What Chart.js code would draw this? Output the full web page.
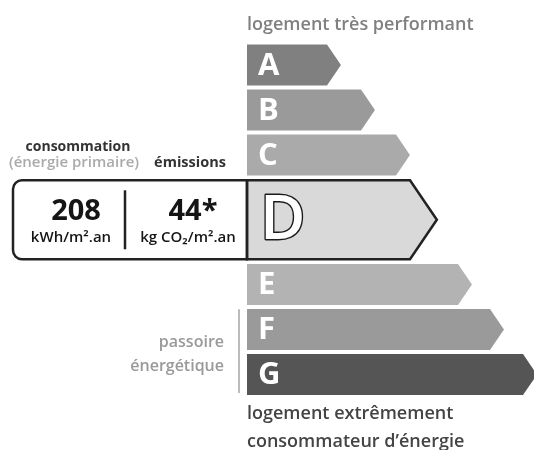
<!DOCTYPE html>
<html>
<head>
<meta charset="utf-8">
<script src="https://cdn.jsdelivr.net/npm/chart.js@4.4.1/dist/chart.umd.min.js"></script>
<style>
  html, body { margin: 0; padding: 0; background: #ffffff; }
  #wrap { width: 534px; height: 450px; position: relative; }
</style>
</head>
<body>
<div id="wrap"><canvas id="c"></canvas></div>
<script>
// ---------- data ----------
const grades = ['A', 'B', 'C', 'D', 'E', 'F', 'G'];
const rectLengths = [80, 114, 149, 163, 211, 243, 276];
const activeGrade = 'D';
const consumptionValue = '208';
const consumptionUnit = 'kWh/m².an';
const emissionsValue = '44*';
const emissionsUnit = 'kg CO₂/m².an';
const consumptionTitle = 'consommation';
const consumptionSub = '(énergie primaire)';
const emissionsTitle = 'émissions';
const topLabel = 'logement très performant';
const bottomLabel = ['logement extrêmement', 'consommateur d’énergie'];
const sieveLabel = ['passoire', 'énergétique'];
const sieveGrades = ['F', 'G'];

// ---------- styles ----------
const fills = ['#808080', '#9a9a9a', '#aaaaaa', '#d9d9d9', '#b3b3b3', '#9a9a9a', '#555555'];
const FONT = '"Open Sans", "Noto Sans", sans-serif';
const act = grades.indexOf(activeGrade);
const extra = 0.44;
function rowCenter(i) { return i + (i > act ? 2 * extra : (i === act ? extra : 0)); }

const normalData = [];
grades.forEach((g, i) => { if (i !== act) normalData.push({ y: rowCenter(i), x: [0, rectLengths[i]], g: g, i: i }); });
const activeData = [{ y: rowCenter(act), x: [0, rectLengths[act]], g: activeGrade, i: act }];

const dpePlugin = {
  id: 'dpe',
  afterDatasetsDraw(chart) {
    const ctx = chart.ctx;
    const xs = chart.scales.x, ys = chart.scales.y;
    ctx.save();
    const bars = [];
    chart.data.datasets.forEach((ds, di) => {
      const meta = chart.getDatasetMeta(di);
      meta.data.forEach((el, j) => {
        const p = el.getProps(['x', 'y', 'base', 'height'], true);
        bars.push({ p: p, d: ds.data[j], active: ds.data[j].i === act });
      });
    });
    bars.sort((a, b) => (a.active ? 1 : 0) - (b.active ? 1 : 0));
    bars.forEach(b => {
      const { x, y, base, height } = b.p;
      const half = height / 2;
      const tip = half * 0.68;
      ctx.beginPath();
      ctx.moveTo(base, y - half);
      ctx.lineTo(x, y - half);
      ctx.lineTo(x + tip, y);
      ctx.lineTo(x, y + half);
      ctx.lineTo(base, y + half);
      ctx.closePath();
      ctx.fillStyle = fills[b.d.i];
      ctx.fill();
      if (b.active) {
        const left = xs.getPixelForValue(-234);
        const top = y - half, bot = y + half, r = 9;
        ctx.beginPath();
        ctx.moveTo(base, top);
        ctx.lineTo(left + r, top);
        ctx.arcTo(left, top, left, top + r, r);
        ctx.lineTo(left, bot - r);
        ctx.arcTo(left, bot, left + r, bot, r);
        ctx.lineTo(base, bot);
        ctx.closePath();
        ctx.fillStyle = '#ffffff';
        ctx.fill();
        ctx.lineWidth = 2.5;
        ctx.strokeStyle = '#222222';
        ctx.stroke();
        ctx.beginPath();
        ctx.moveTo(base, y - half);
        ctx.lineTo(x, y - half);
        ctx.lineTo(x + tip, y);
        ctx.lineTo(x, y + half);
        ctx.lineTo(base, y + half);
        ctx.closePath();
        ctx.stroke();
        const dv = xs.getPixelForValue(-122);
        ctx.beginPath();
        ctx.moveTo(dv, top + 10);
        ctx.lineTo(dv, bot - 10);
        ctx.lineWidth = 2.5;
        ctx.stroke();
        ctx.fillStyle = '#151515';
        ctx.textAlign = 'center';
        ctx.textBaseline = 'alphabetic';
        ctx.font = '700 29px ' + FONT;
        ctx.fillText(consumptionValue, 76, y + 0);
        ctx.fillText(emissionsValue, 193, y + 0);
        ctx.font = '600 15px ' + FONT;
        ctx.fillText(consumptionUnit, 71, y + 22);
        ctx.fillText(emissionsUnit, 188, y + 22);
        ctx.font = '600 62px ' + FONT;
        ctx.textAlign = 'left';
        ctx.textBaseline = 'middle';
        ctx.lineWidth = 2.8;
        ctx.lineJoin = 'round';
        ctx.strokeStyle = '#1a1a1a';
        ctx.fillStyle = '#ffffff';
        ctx.strokeText(b.d.g, base + 13, y + 2);
        ctx.fillText(b.d.g, base + 13, y + 2);
      } else {
        ctx.font = '700 31px ' + FONT;
        ctx.textAlign = 'left';
        ctx.textBaseline = 'middle';
        ctx.fillStyle = '#ffffff';
        ctx.fillText(b.d.g, base + 11, y + 1);
      }
    });

    const activeTop = ys.getPixelForValue(rowCenter(act) - 0.88);
    ctx.textAlign = 'center';
    ctx.textBaseline = 'alphabetic';
    ctx.font = '700 14px ' + FONT;
    ctx.fillStyle = '#333333';
    ctx.fillText(consumptionTitle, 78, activeTop - 29);
    ctx.font = '700 14.5px ' + FONT;
    ctx.fillText(emissionsTitle, 190, activeTop - 13);
    ctx.font = '600 15px ' + FONT;
    ctx.fillStyle = '#aaaaaa';
    ctx.fillText(consumptionSub, 74, activeTop - 13);

    const x0 = xs.getPixelForValue(0);
    const firstTop = ys.getPixelForValue(rowCenter(0) - 0.455);
    ctx.textAlign = 'left';
    ctx.font = '600 18px ' + FONT;
    ctx.fillStyle = '#808080';
    ctx.fillText(topLabel, x0, firstTop - 15);

    const lastBot = ys.getPixelForValue(rowCenter(grades.length - 1) + 0.455);
    ctx.font = '600 18px ' + FONT;
    ctx.fillStyle = '#444444';
    ctx.fillText(bottomLabel[0], x0, lastBot + 24);
    ctx.fillText(bottomLabel[1], x0, lastBot + 52);

    const sTop = ys.getPixelForValue(rowCenter(grades.indexOf(sieveGrades[0])) - 0.455);
    const sBot = ys.getPixelForValue(rowCenter(grades.indexOf(sieveGrades[1])) + 0.455);
    const lx = xs.getPixelForValue(-8);
    ctx.beginPath();
    ctx.moveTo(lx, sTop);
    ctx.lineTo(lx, sBot - 2);
    ctx.lineWidth = 2;
    ctx.strokeStyle = '#bbbbbb';
    ctx.stroke();
    ctx.textAlign = 'right';
    ctx.textBaseline = 'middle';
    ctx.font = '600 16px ' + FONT;
    ctx.fillStyle = '#999999';
    const mid = (sTop + sBot) / 2;
    ctx.fillText(sieveLabel[0], lx - 15, mid - 10);
    ctx.fillText(sieveLabel[1], lx - 15, mid + 14);
    ctx.restore();
  }
};

new Chart(document.getElementById('c'), {
  type: 'bar',
  data: {
    datasets: [
      { label: 'classes', data: normalData, barThickness: 41, grouped: false,
        backgroundColor: 'rgba(0,0,0,0)', borderWidth: 0 },
      { label: 'classe du logement', data: activeData, barThickness: 79, grouped: false,
        backgroundColor: 'rgba(0,0,0,0)', borderWidth: 0 }
    ]
  },
  options: {
    indexAxis: 'y',
    responsive: true,
    maintainAspectRatio: false,
    animation: false,
    layout: { padding: 0 },
    plugins: { legend: { display: false }, tooltip: { enabled: false } },
    scales: {
      x: { type: 'linear', display: false, min: -247, max: 287, offset: false },
      y: { type: 'linear', display: false, reverse: true, offset: false,
           min: -65 / 45, max: (450 - 65) / 45 }
    }
  },
  plugins: [dpePlugin]
});
</script>
</body>
</html>
